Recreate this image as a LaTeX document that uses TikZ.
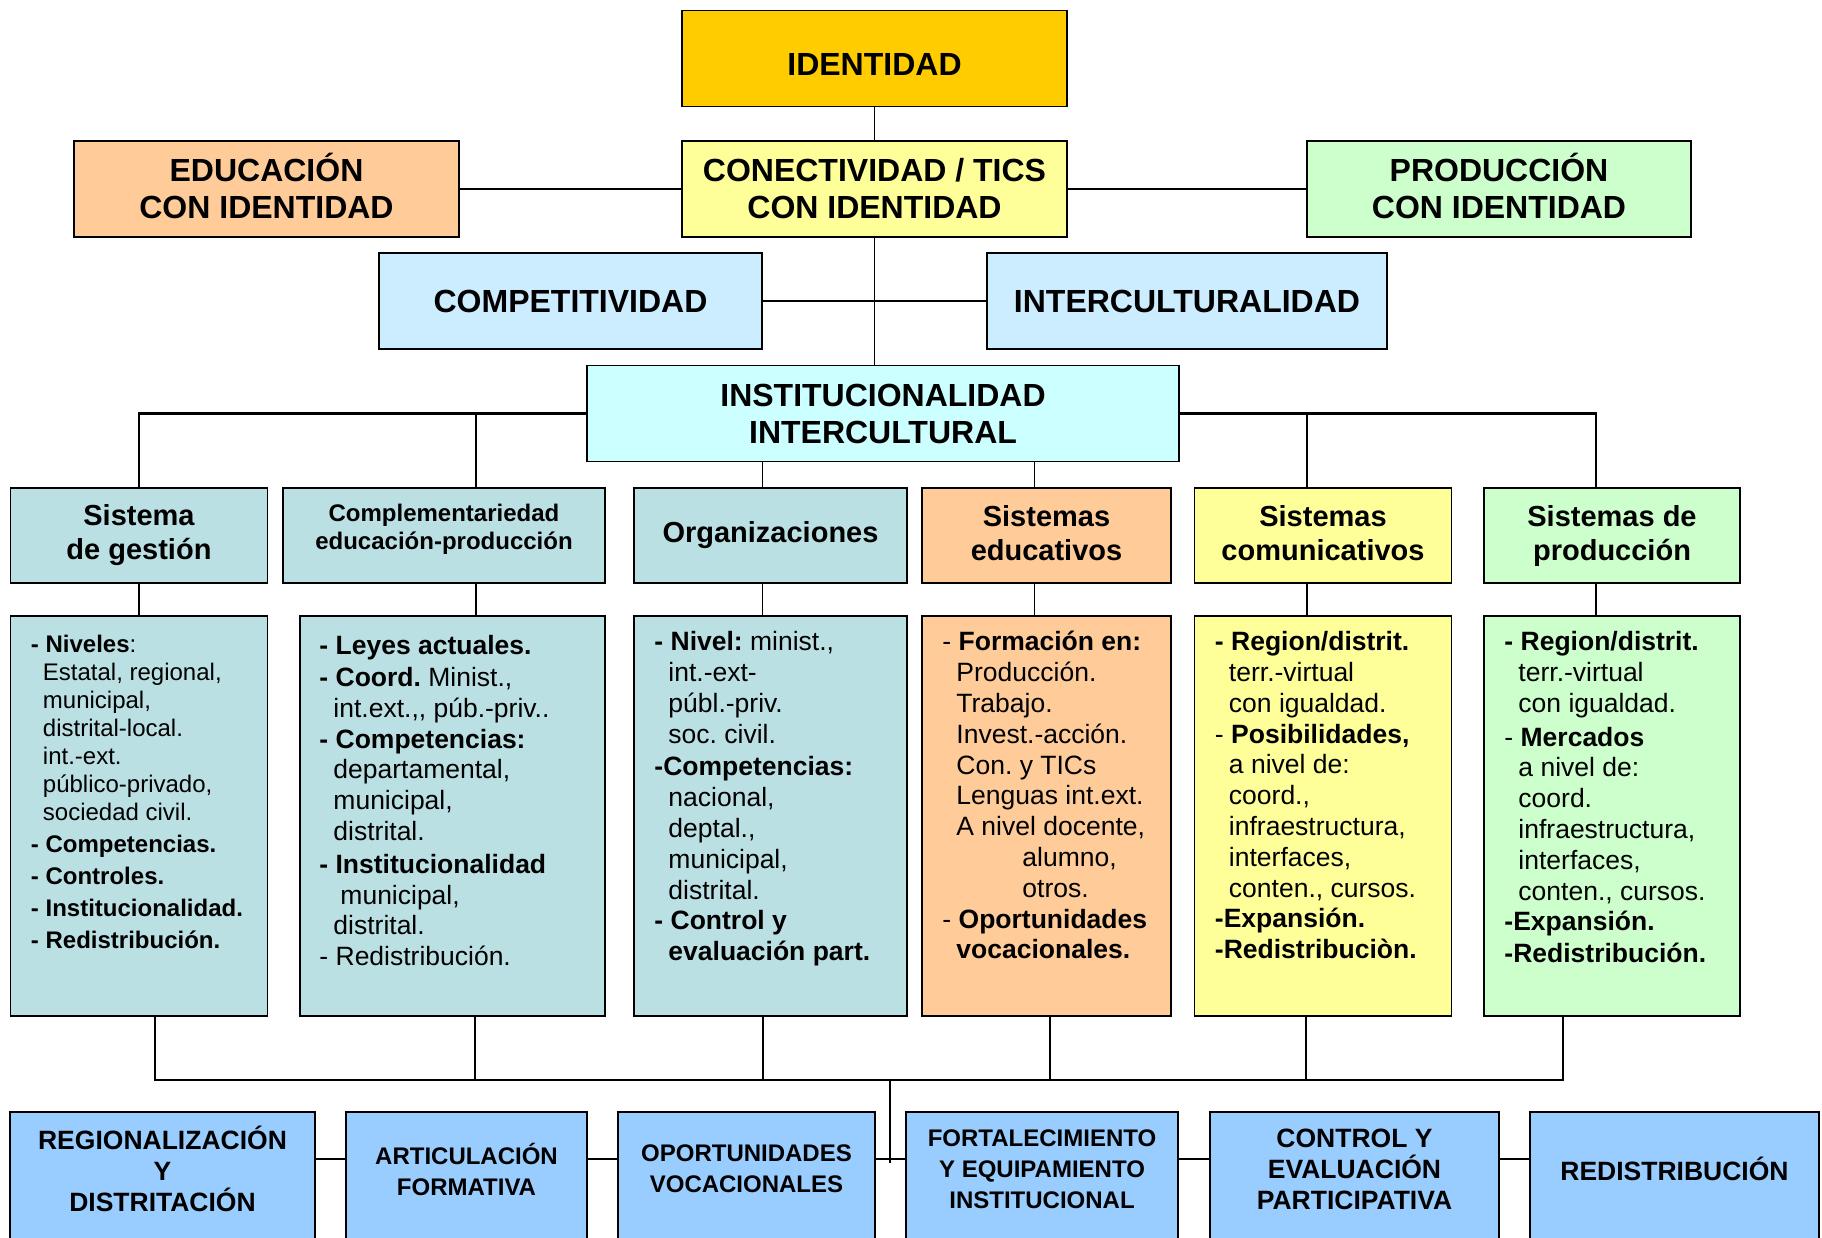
\documentclass[tikz,border=0pt]{standalone}
\usepackage{fontspec}
\setmainfont{Liberation Sans}
\usepackage{tikz}
\usetikzlibrary{positioning,calc}

\definecolor{gold}{HTML}{FFCC00}
\definecolor{peach}{HTML}{FFCC99}
\definecolor{lemon}{HTML}{FFFF99}
\definecolor{mint}{HTML}{CCFFCC}
\definecolor{skyblue}{HTML}{CCECFF}
\definecolor{aqua}{HTML}{CCFFFF}
\definecolor{tealpale}{HTML}{BBE0E3}
\definecolor{azure}{HTML}{99CCFF}

\newcommand{\subline}{\hspace*{14pt}}
\newcommand{\nudge}[2]{\raisebox{#1}[\height][\depth]{\begin{tabular}{@{}c@{}}#2\end{tabular}}}
\frenchspacing

\begin{document}
\begin{tikzpicture}[
    x=1pt, y=-1pt,
    box/.style={rectangle, draw=black, line width=1.5pt, inner sep=0pt, align=center},
    head/.style={box, minimum height=96pt, font=\fontsize{32}{37}\selectfont\bfseries},
    cat/.style={box, minimum height=95pt, font=\fontsize{29}{34}\selectfont\bfseries},
    detail/.style={box, minimum height=400pt},
    detailtxt/.style={anchor=north west, inner sep=0pt, align=left, font=\fontsize{26.5}{30.8}\selectfont},
    foot/.style={box, fill=azure, minimum height=200pt, anchor=north},
    foottxt/.style={inner sep=0pt, align=center, font=\fontsize{26.5}{31}\selectfont\bfseries},
    link/.style={line width=1.3pt},
    bus/.style={line width=2.2pt}
]
    \useasboundingbox (0,0) rectangle (1822,1238);
    \clip (0,0) rectangle (1822,1238);

    % Upper levels
    \node[head, fill=gold, minimum width=385pt] (identidad) at (874.5,58.5) {\nudge{-9.5pt}{IDENTIDAD}};
    \node[head, fill=peach, minimum width=385pt] (educacion) at (266.5,189) {\nudge{-2.5pt}{EDUCACIÓN\\CON IDENTIDAD}};
    \node[head, fill=lemon, minimum width=385pt] (conectividad) at (874.5,189) {CONECTIVIDAD / TICS\\CON IDENTIDAD};
    \node[head, fill=mint, minimum width=384pt] (produccion) at (1499,189) {\nudge{-2.5pt}{PRODUCCIÓN\\CON IDENTIDAD}};
    \node[head, fill=skyblue, minimum width=383pt] (competitividad) at (570.5,301) {COMPETITIVIDAD};
    \node[head, fill=skyblue, minimum width=400pt] (intercult) at (1187,301) {INTERCULTURALIDAD};
    \node[head, fill=aqua, minimum width=592pt] (instit) at (883,413.5) {INSTITUCIONALIDAD\\INTERCULTURAL};

    % Systems
    \node[cat, fill=tealpale, minimum width=257pt] (gest) at (139,535.5) {Sistema\\de gestión};
    \node[cat, fill=tealpale, minimum width=322pt, font=\fontsize{24}{28}\selectfont\bfseries] (compl) at (444,535.5) {\nudge{6pt}{Complementariedad\\educación-producción}};
    \node[cat, fill=tealpale, minimum width=273pt] (org) at (770.5,535.5) {Organizaciones};
    \node[cat, fill=peach, minimum width=249pt] (educ) at (1046.5,535.5) {\nudge{-1.5pt}{Sistemas\\educativos}};
    \node[cat, fill=lemon, minimum width=257pt] (comun) at (1323,535.5) {\nudge{-1.5pt}{Sistemas\\comunicativos}};
    \node[cat, fill=mint, minimum width=256pt] (prod) at (1612,535.5) {Sistemas de\\producción};

    % Contents of each system
    \node[detail, fill=tealpale, minimum width=257pt] (gestD) at (139,816) {};
    \node[detail, fill=tealpale, minimum width=305pt] (complD) at (452.5,816) {};
    \node[detail, fill=tealpale, minimum width=273pt] (orgD) at (770.5,816) {};
    \node[detail, fill=peach, minimum width=249pt] (educD) at (1046.5,816) {};
    \node[detail, fill=lemon, minimum width=257pt] (comunD) at (1323,816) {};
    \node[detail, fill=mint, minimum width=256pt] (prodD) at (1612,816) {};

    \node[detailtxt, font=\fontsize{24}{28}\selectfont] (gestT) at ([xshift=21pt,yshift=-20pt]gestD.north west) {%
        \textbf{- Niveles}:\\
        \hspace*{12pt}Estatal, regional,\\
        \hspace*{12pt}municipal,\\
        \hspace*{12pt}distrital-local.\\
        \hspace*{12pt}int.-ext.\\
        \hspace*{12pt}público-privado,\\
        \hspace*{12pt}sociedad civil.\\[4pt]
        \textbf{- Competencias.}\\[4pt]
        \textbf{- Controles.}\\[4pt]
        \textbf{- Institucionalidad.}\\[4pt]
        \textbf{- Redistribución.}};
    \node[detailtxt] (complT) at ([xshift=20pt,yshift=-20pt]complD.north west) {%
        \textbf{- Leyes actuales.}\\[1pt]
        \textbf{- Coord.} Minist.,\\
        \subline int.ext.,{},\ púb.-priv..\\
        \textbf{- Competencias:}\\
        \subline departamental,\\
        \subline municipal,\\
        \subline distrital.\\[2pt]
        \textbf{- Institucionalidad}\\
        \subline\hspace*{7pt}municipal,\\
        \subline distrital.\\
        - Redistribución.};
    \node[detailtxt] (orgT) at ([xshift=21pt,yshift=-16pt]orgD.north west) {%
        \textbf{- Nivel:} minist.,\\
        \subline int.-ext-\\
        \subline públ.-priv.\\
        \subline soc. civil.\\[2pt]
        \textbf{-Competencias:}\\
        \subline nacional,\\
        \subline deptal.,\\
        \subline municipal,\\
        \subline distrital.\\
        \textbf{- Control y}\\
        \subline\textbf{evaluación part.}};
    \node[detailtxt] (educT) at ([xshift=21pt,yshift=-16pt]educD.north west) {%
        - \textbf{Formación en:}\\
        \subline Producción.\\
        \subline Trabajo.\\
        \subline Invest.-acción.\\
        \subline Con. y TICs\\
        \subline Lenguas int.ext.\\
        \subline A nivel docente,\\
        \hspace*{80pt}alumno,\\
        \hspace*{80pt}otros.\\
        - \textbf{Oportunidades}\\
        \subline\textbf{vocacionales.}};
    \node[detailtxt] (comunT) at ([xshift=21pt,yshift=-16pt]comunD.north west) {%
        \textbf{- Region/distrit.}\\
        \subline terr.-virtual\\
        \subline con igualdad.\\
        - \textbf{Posibilidades,}\\
        \subline a nivel de:\\
        \subline coord.,\\
        \subline infraestructura,\\
        \subline interfaces,\\
        \subline conten., cursos.\\
        \textbf{-Expansión.}\\
        \textbf{-Redistribuciòn.}};
    \node[detailtxt] (prodT) at ([xshift=21pt,yshift=-16pt]prodD.north west) {%
        \textbf{- Region/distrit.}\\
        \subline terr.-virtual\\
        \subline con igualdad.\\[3pt]
        - \textbf{Mercados}\\
        \subline a nivel de:\\
        \subline coord.\\
        \subline infraestructura,\\
        \subline interfaces,\\
        \subline conten., cursos.\\
        \textbf{-Expansión.}\\[1pt]
        \textbf{-Redistribución.}};

    % Results
    \node[foot, minimum width=305pt] (regio) at (162.5,1111) {};
    \node[foot, minimum width=241pt] (artic) at (466.5,1111) {};
    \node[foot, minimum width=257pt] (oport) at (746.5,1111) {};
    \node[foot, minimum width=272pt] (fortal) at (1042,1111) {};
    \node[foot, minimum width=289pt] (control) at (1354.5,1111) {};
    \node[foot, minimum width=289pt] (redist) at (1674.5,1111) {};

    \node[foottxt] (regioT) at ([yshift=-58pt]regio.north) {REGIONALIZACIÓN\\Y\\DISTRITACIÓN};
    \node[foottxt, font=\fontsize{24}{31}\selectfont\bfseries] (articT) at ([yshift=-58pt]artic.north) {ARTICULACIÓN\\FORMATIVA};
    \node[foottxt, font=\fontsize{24}{31}\selectfont\bfseries] (oportT) at ([yshift=-58pt]oport.north) {OPORTUNIDADES\\VOCACIONALES};
    \node[foottxt, font=\fontsize{24}{31}\selectfont\bfseries] (fortalT) at ([yshift=-58pt]fortal.north) {FORTALECIMIENTO\\Y EQUIPAMIENTO\\INSTITUCIONAL};
    \node[foottxt] (controlT) at ([yshift=-58pt]control.north) {CONTROL Y\\EVALUACIÓN\\PARTICIPATIVA};
    \node[foottxt] (redistT) at ([yshift=-58pt]redist.north) {REDISTRIBUCIÓN};

    % Upper links
    \draw[link] (identidad) -- (conectividad);
    \draw[link] (educacion) -- (conectividad);
    \draw[link] (conectividad) -- (produccion);
    \draw[link] (conectividad.south) -- (conectividad.south |- instit.north);
    \draw[link] (competitividad) -- (intercult);

    % Institutional links
    \draw[bus] (instit.west) -| (gest.north);
    \draw[link] (instit.west) -| ([xshift=32pt]compl.north);
    \draw[bus] (instit.east) -| ([xshift=-16pt]prod.north);
    \draw[link] (instit.east) -| ([xshift=-16pt]comun.north);
    \draw[link] ([xshift=-8pt]org.north |- instit.south) -- ([xshift=-8pt]org.north);
    \draw[link] ([xshift=-12pt]educ.north |- instit.south) -- ([xshift=-12pt]educ.north);

    % System to contents
    \draw[link] (gest) -- (gestD);
    \draw[link] ([xshift=32pt]compl.south) -- ([xshift=32pt]compl.south |- complD.north);
    \draw[link] ([xshift=-8pt]org.south) -- ([xshift=-8pt]orgD.north);
    \draw[link] ([xshift=-12pt]educ.south) -- ([xshift=-12pt]educD.north);
    \draw[link] ([xshift=-16pt]comun.south) -- ([xshift=-16pt]comunD.north);
    \draw[link] ([xshift=-16pt]prod.south) -- ([xshift=-16pt]prodD.north);

    % Contents to results
    \coordinate (hub) at (890,1080);
    \draw[bus] ([xshift=16pt]gestD.south) |- (hub) -| ([xshift=-49pt]prodD.south);
    \draw[link] ([xshift=22.5pt]complD.south) -- ([xshift=22.5pt]complD.south |- hub);
    \draw[link] ([xshift=-7.5pt]orgD.south) -- ([xshift=-7.5pt]orgD.south |- hub);
    \draw[link] ([xshift=3.5pt]educD.south) -- ([xshift=3.5pt]educD.south |- hub);
    \draw[link] ([xshift=-17pt]comunD.south) -- ([xshift=-17pt]comunD.south |- hub);
    \draw[link] (hub) -- ([yshift=-52pt]hub |- oport.north);

    % Results chain
    \draw[bus] ([yshift=-48pt]regio.north east) -- ([yshift=-48pt]artic.north west);
    \draw[bus] ([yshift=-48pt]artic.north east) -- ([yshift=-48pt]oport.north west);
    \draw[bus] ([yshift=-48pt]oport.north east) -- ([yshift=-48pt]fortal.north west);
    \draw[bus] ([yshift=-48pt]fortal.north east) -- ([yshift=-48pt]control.north west);
    \draw[bus] ([yshift=-48pt]control.north east) -- ([yshift=-48pt]redist.north west);
\end{tikzpicture}
\end{document}
